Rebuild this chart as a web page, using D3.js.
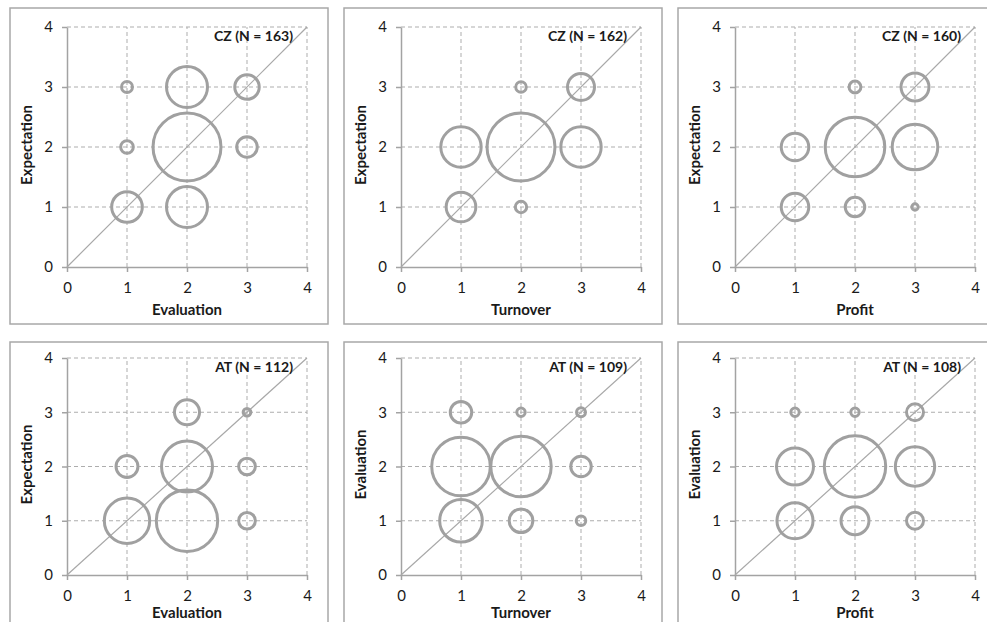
<!DOCTYPE html>
<html>
<head>
<meta charset="utf-8">
<script src="https://cdn.jsdelivr.net/npm/d3@7"></script>
<style>
  html, body { margin: 0; padding: 0; background: #fff; }
  svg { display: block; }
  text { font-family: Lato, "Open Sans", "Noto Sans", sans-serif; fill: #1a1a1a; }
</style>
</head>
<body>
<svg id="chart" width="987" height="622"></svg>
<script>
// ---------------- data ----------------
const panelTitles = ["CZ (N = 163)", "CZ (N = 162)", "CZ (N = 160)", "AT (N = 112)", "AT (N = 109)", "AT (N = 108)"];
const xTitles = ["Evaluation", "Turnover", "Profit", "Evaluation", "Turnover", "Profit"];
const yTitles = ["Expectation", "Expectation", "Expectation", "Expectation", "Evaluation", "Evaluation"];
const tickValues = [0, 1, 2, 3, 4];
const xLevels = [1, 2, 3];
const yLevels = [3, 2, 1];            // rows of each matrix, top to bottom
// share of respondents (%) per cell; rows = y 3,2,1 ; columns = x 1,2,3
const czEvaluationExpectation = [[1.2, 16.8, 6.0], [1.6, 46.2, 4.2], [9.4, 16.8, 0]];
const czTurnoverExpectation   = [[0, 1.1, 7.3], [16.3, 46.2, 16.3], [8.8, 1.3, 0]];
const czProfitExpectation     = [[0, 1.4, 7.8], [7.6, 35.5, 20.8], [7.6, 3.8, 0.4]];
const atEvaluationExpectation = [[0, 6.3, 0.6], [4.8, 26.0, 2.8], [20.6, 37.7, 2.8]];
const atTurnoverEvaluation    = [[4.6, 0.7, 0.8], [34.3, 36.5, 4.2], [18.2, 5.6, 0.9]];
const atProfitEvaluation      = [[0.7, 0.7, 2.9], [13.7, 37.7, 15.5], [13.0, 7.8, 2.9]];
const panelData = [czEvaluationExpectation, czTurnoverExpectation, czProfitExpectation,
                   atEvaluationExpectation, atTurnoverEvaluation, atProfitEvaluation];

// ---------------- layout ----------------
const svg = d3.select("#chart");
const plotW = 240;
const rowTop = [27, 358];
const rowH = [240, 217];
const colLeft = [67, 401, 735];
const frameTop = [8, 342];
const frameH = [316, 300];

const axisColor = "#a3a3a3";
const gridColor = "#adadad";
const bubbleColor = "#a0a0a0";

const rScale = d3.scaleSqrt().domain([0, 100]).range([0, 50]);

panelData.forEach((matrix, p) => {
  const row = Math.floor(p / 3), col = p % 3;
  const x0 = colLeft[col], y0 = rowTop[row], h = rowH[row];

  // frame
  svg.append("rect")
    .attr("x", x0 - 57).attr("y", frameTop[row])
    .attr("width", 318).attr("height", frameH[row])
    .attr("fill", "none").attr("stroke", "#a8a8a8").attr("stroke-width", 1.5);

  const g = svg.append("g").attr("transform", `translate(${x0},${y0})`);
  const x = d3.scaleLinear().domain([0, 4]).range([0, plotW]);
  const y = d3.scaleLinear().domain([0, 4]).range([h, 0]);

  // dashed gridlines
  g.append("g").selectAll("line").data(tickValues.slice(1)).join("line")
    .attr("x1", d => x(d)).attr("x2", d => x(d))
    .attr("y1", h).attr("y2", 0)
    .attr("stroke", gridColor).attr("stroke-width", 1).attr("stroke-dasharray", "4,3");
  g.append("g").selectAll("line").data(tickValues.slice(1)).join("line")
    .attr("x1", 0).attr("x2", plotW)
    .attr("y1", d => y(d)).attr("y2", d => y(d))
    .attr("stroke", gridColor).attr("stroke-width", 1).attr("stroke-dasharray", "4,3");

  // axes
  const fmt = d3.format("d");
  const xAxis = g.append("g").attr("transform", `translate(0,${h})`)
    .call(d3.axisBottom(x).tickValues(tickValues).tickFormat(fmt).tickSize(5).tickPadding(10).tickSizeOuter(0));
  const yAxis = g.append("g")
    .call(d3.axisLeft(y).tickValues(tickValues).tickFormat(fmt).tickSize(5).tickPadding(9).tickSizeOuter(0));
  [xAxis, yAxis].forEach(a => {
    a.select(".domain").attr("stroke", axisColor).attr("stroke-width", 1.5);
    a.selectAll(".tick line").attr("stroke", axisColor).attr("stroke-width", 1.5);
    a.selectAll(".tick text").style("font-size", "15px").attr("fill", "#1a1a1a");
  });

  // diagonal
  g.append("line")
    .attr("x1", x(0)).attr("y1", y(0)).attr("x2", x(4)).attr("y2", y(4))
    .attr("stroke", "#a8a8a8").attr("stroke-width", 1.2);

  // bubbles
  const pts = [];
  matrix.forEach((r, i) => r.forEach((v, j) => {
    if (v > 0) pts.push({ xv: xLevels[j], yv: yLevels[i], v });
  }));
  g.append("g").selectAll("circle").data(pts).join("circle")
    .attr("cx", d => x(d.xv)).attr("cy", d => y(d.yv))
    .attr("r", d => rScale(d.v))
    .attr("fill", "none").attr("stroke", bubbleColor).attr("stroke-width", 3);

  // annotation
  g.append("text")
    .attr("x", plotW - 14).attr("y", 14)
    .attr("text-anchor", "end")
    .style("font-size", "14px").style("font-weight", "bold")
    .text(panelTitles[p]);

  // axis titles
  g.append("text")
    .attr("x", plotW / 2).attr("y", row === 0 ? h + 48 : h + 43)
    .attr("text-anchor", "middle")
    .style("font-size", "15px").style("font-weight", "bold")
    .text(xTitles[p]);
  g.append("text")
    .attr("transform", `translate(-35,${h / 2 - 2}) rotate(-90)`)
    .attr("text-anchor", "middle")
    .style("font-size", "15px").style("font-weight", "bold")
    .text(yTitles[p]);
});
</script>
</body>
</html>
